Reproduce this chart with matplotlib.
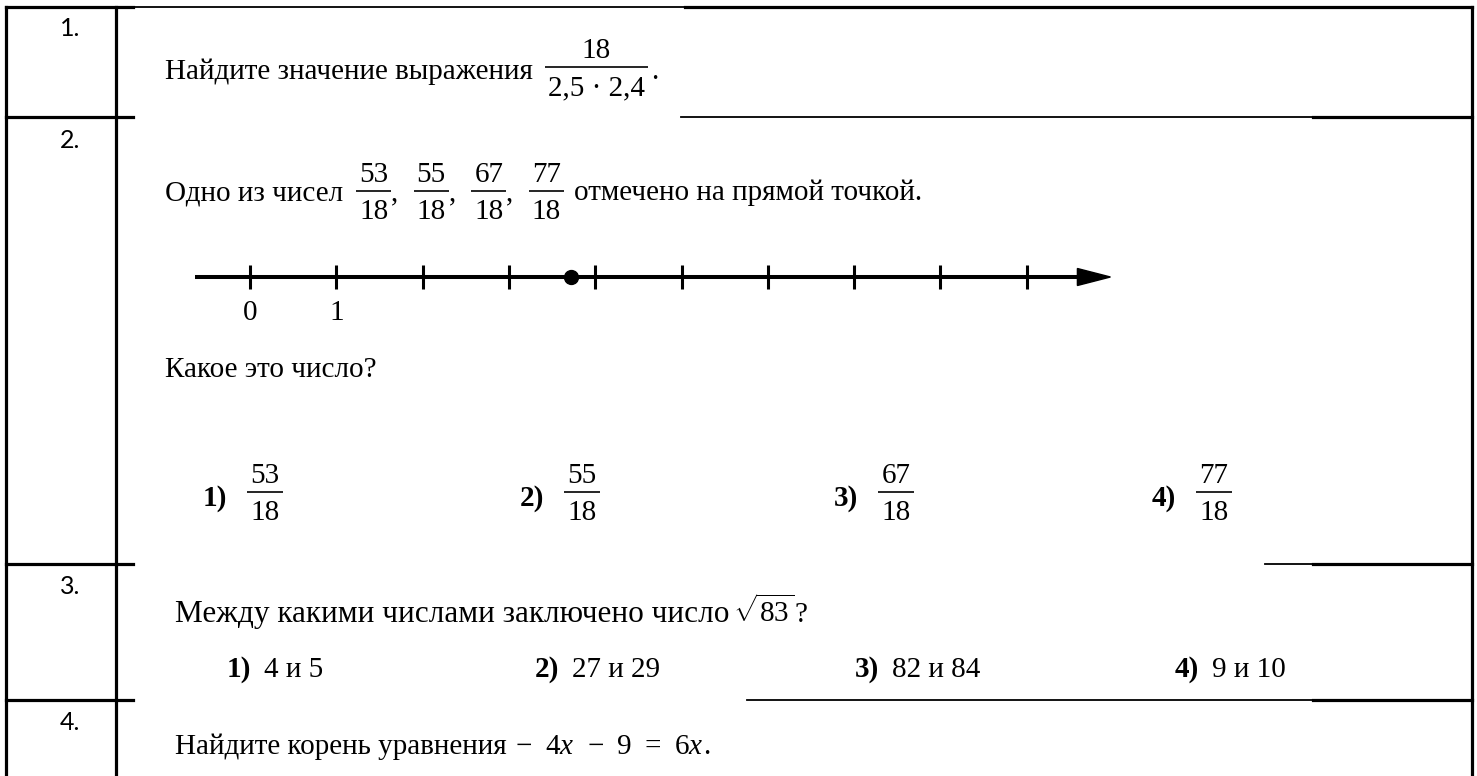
import matplotlib
matplotlib.use("Agg")
import matplotlib.pyplot as plt
from matplotlib.patches import Polygon

plt.rcParams['font.family'] = ['Liberation Serif', 'DejaVu Serif']
plt.rcParams['mathtext.fontset'] = 'custom'
plt.rcParams['mathtext.rm'] = 'Liberation Serif'
plt.rcParams['mathtext.it'] = 'Liberation Serif:italic'
plt.rcParams['mathtext.bf'] = 'Liberation Serif:bold'

# ---------------- data ----------------
row_labels = ['1.', '2.', '3.', '4.']

q1_text = 'Найдите значение выражения'
q1_numerator = '18'
q1_factors = ['2,5', '2,4']

q2_text_before = 'Одно из чисел'
q2_text_after = 'отмечено на прямой точкой.'
q2_numerators = [53, 55, 67, 77]
q2_denominator = 18
q2_marked_numerator = 67
numline_ticks = [0, 1, 2, 3, 4, 5, 6, 7, 8, 9]
numline_tick_labels = ['0', '1']
numline_range = [-0.64, 9.97]
q2_question = 'Какое это число?'
answer_labels = ['1)', '2)', '3)', '4)']

q3_text = 'Между какими числами заключено число'
q3_radicand = 83
q3_options = [('4', '5'), ('27', '29'), ('82', '84'), ('9', '10')]

q4_text = 'Найдите корень уравнения'
q4_lhs = ['−', '$4x$', '−', '9']
q4_rhs = ['$6x$']

# ---------------- layout ----------------
W, H = 1477, 776
fig = plt.figure(figsize=(W / 100, H / 100), dpi=100)
ax = fig.add_axes([0, 0, 1, 1])
ax.set_xlim(0, W)
ax.set_ylim(H, 0)
ax.axis('off')
renderer = fig.canvas.get_renderer()

FS = 21
thick, thin = 2.3, 1.3

def put_text(x, y, s, **kw):
    t = ax.text(x, y, s, ha='left', va='baseline', fontsize=kw.pop('fontsize', FS),
                color='black', **kw)
    return t.get_window_extent(renderer).x1

def text_width(s, fs=FS):
    t = ax.text(0, 0, s, fontsize=fs)
    w = t.get_window_extent(renderer).width
    t.remove()
    return w

def put_frac(x, base, num, den, raise_=10, pad=3, fs=FS):
    bar = base - raise_
    w = max(text_width(num, fs), text_width(den, fs)) + 2 * pad
    ax.plot([x, x + w], [bar, bar], color='black', lw=1.2, solid_capstyle='butt')
    ax.text(x + w / 2, bar - 9, num, ha='center', va='baseline', fontsize=fs, color='black')
    ax.text(x + w / 2, bar + 28, den, ha='center', va='baseline', fontsize=fs, color='black')
    return x + w

# table borders
ax.plot([6, 6], [7, H], color='black', lw=thick)
ax.plot([116, 116], [7, H], color='black', lw=thick)
ax.plot([1472, 1472], [7, H], color='black', lw=thick)
ax.plot([6, 133], [7, 7], color='black', lw=thick)
ax.plot([133, 685], [7, 7], color='black', lw=thin)
ax.plot([685, 1472], [7, 7], color='black', lw=thick)
for y, xs in [(117, 681), (564, 1265), (700, 747)]:
    ax.plot([6, 133], [y, y], color='black', lw=thick)
    ax.plot([xs, 1313], [y, y], color='black', lw=thin)
    ax.plot([1313, 1472], [y, y], color='black', lw=thick)

# row numbers
for lab, y in zip(row_labels, [28, 140, 587, 722]):
    ax.text(70, y, lab, ha='center', va='center', fontsize=18,
            family=['Lato', 'DejaVu Sans'], color='black')

# row 1
x = put_text(165, 79, q1_text)
x = put_frac(x + 12, 79, q1_numerator, ' · '.join(q1_factors), raise_=12)
put_text(x + 3, 79, '.')

# row 2
x = put_text(165, 200, q2_text_before) + 13
for i, n in enumerate(q2_numerators):
    x = put_frac(x, 200, str(n), str(q2_denominator), raise_=9)
    if i < len(q2_numerators) - 1:
        x = put_text(x, 200, ',') + 15
put_text(x + 10, 200, q2_text_after)

# number line (own axes, data units = number line units)
x_left, x_right = 185, 1120
y_top, y_bot = 255, 330
nax = fig.add_axes([x_left / W, 1 - y_bot / H, (x_right - x_left) / W, (y_bot - y_top) / H])
zero_px, unit_px = 250, 86.3
nax.set_xlim((x_left - zero_px) / unit_px, (x_right - zero_px) / unit_px)
nax.set_ylim(-(y_bot - 277), 277 - y_top)
nax.axis('off')
head_len = 33 / unit_px
nax.plot([numline_range[0], numline_range[1] - head_len + 0.02], [0, 0], color='black', lw=2.9,
         solid_capstyle='butt')
nax.add_patch(Polygon([[numline_range[1], 0], [numline_range[1] - head_len, 8.5],
                       [numline_range[1] - head_len, -8.5]], closed=True, color='black'))
nax.vlines(numline_ticks, -12, 12, color='black', lw=2.2)
for t, lab in zip(numline_ticks, numline_tick_labels):
    nax.text(t, -36, lab, ha='center', va='center', fontsize=21, color='black')
nax.plot([q2_marked_numerator / q2_denominator], [0], 'o', color='black', ms=10)

put_text(165, 377, q2_question)

for lab, n, x0 in zip(answer_labels, q2_numerators, [203, 520, 834, 1152]):
    x = put_text(x0, 506, lab, weight='bold')
    put_frac(x + 20, 502, str(n), str(q2_denominator), raise_=10)

# row 3
x = put_text(175, 622, q3_text, fontsize=22.5)
x = put_text(x + 4, 622, r'$\sqrt{%d}$' % q3_radicand)
put_text(x, 622, '?')
for lab, (a, b), x0 in zip(answer_labels, q3_options, [227, 535, 855, 1175]):
    x = put_text(x0, 677, lab, weight='bold')
    put_text(x + 13, 677, '%s и %s' % (a, b))

# row 4
x = put_text(175, 754, q4_text) + 9
for tok in q4_lhs:
    x = put_text(x, 754, tok) + 13
x = put_text(x, 754, '=') + 13
for tok in q4_rhs:
    x = put_text(x, 754, tok)
put_text(x, 754, '.')

fig.savefig('out.png', dpi=100, facecolor='white')
